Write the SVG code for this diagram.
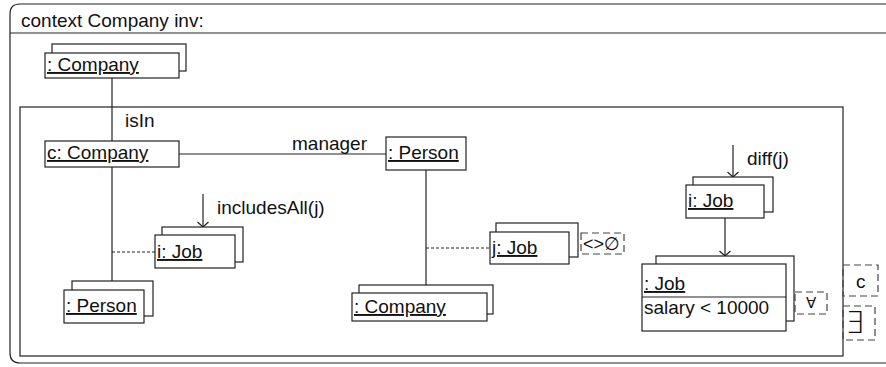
<svg xmlns="http://www.w3.org/2000/svg" width="886" height="367" viewBox="0 0 886 367">
<defs>
<style>
text{font-family:"Liberation Sans","DejaVu Sans",Arial,sans-serif;font-size:19px;fill:#111}
.u{text-decoration:underline}
.box{fill:#fff;stroke:#222;stroke-width:1.2}
.ln{fill:none;stroke:#222;stroke-width:1.2}
.dl{fill:none;stroke:#222;stroke-width:1;stroke-dasharray:3 2}
.db{fill:none;stroke:#444;stroke-width:1.2;stroke-dasharray:7 4}
.sym{font-family:"DejaVu Sans",sans-serif}
</style>
<marker id="arr" viewBox="-7 -7 9 14" refX="0" refY="0" markerWidth="9" markerHeight="14" markerUnits="userSpaceOnUse" orient="auto">
<path d="M-5,-5.5 L0,0 L-5,5.5" fill="none" stroke="#222" stroke-width="1.2"/>
</marker>
</defs>

<g id="frame">
<path class="ln" d="M896,4 H20 Q10,4 10,14 V353 Q10,363 20,363 H896"/>
<line class="ln" x1="10" y1="33" x2="896" y2="33"/>
<text x="21" y="27">context Company inv:</text>
</g>

<g id="inner">
<rect class="ln" x="20" y="107" width="823" height="249"/>
</g>

<g id="connectors">
<line class="ln" x1="112" y1="78" x2="112" y2="141"/>
<line class="ln" x1="179" y1="154" x2="386" y2="154"/>
<line class="ln" x1="112" y1="167" x2="112" y2="281"/>
<line class="dl" x1="112" y1="252" x2="155" y2="252"/>
<line class="ln" x1="203" y1="194" x2="203" y2="227" marker-end="url(#arr)"/>
<line class="ln" x1="426" y1="170" x2="426" y2="285"/>
<line class="dl" x1="426" y1="248" x2="490" y2="248"/>
<line class="ln" x1="733" y1="145" x2="733" y2="177" marker-end="url(#arr)"/>
<line class="ln" x1="725" y1="218" x2="725" y2="256" marker-end="url(#arr)"/>
<text x="125" y="127">isIn</text>
<text x="292" y="150">manager</text>
<text x="217" y="214">includesAll(j)</text>
<text x="747" y="165">diff(j)</text>
</g>

<g id="companyTop">
<rect class="box" x="52" y="44" width="134" height="27"/>
<rect class="box" x="45" y="53" width="134" height="25"/>
<text class="u" x="47" y="71">: Company</text>
</g>

<g id="cCompany">
<rect class="box" x="45" y="141" width="134" height="26"/>
<text class="u" x="47" y="159">c: Company</text>
</g>

<g id="personTop">
<rect class="box" x="386" y="137" width="80" height="33"/>
<text class="u" x="388" y="159">: Person</text>
</g>

<g id="iJobLeft">
<rect class="box" x="162" y="227" width="81" height="35"/>
<rect class="box" x="155" y="235" width="80" height="33"/>
<text class="u" x="157" y="258">i: Job</text>
</g>

<g id="personBottom">
<rect class="box" x="72" y="281" width="81" height="35"/>
<rect class="box" x="64" y="290" width="80" height="33"/>
<text class="u" x="66" y="312">: Person</text>
</g>

<g id="jJob">
<rect class="box" x="496" y="223" width="82" height="34"/>
<rect class="box" x="490" y="232" width="79" height="32"/>
<text class="u" x="492" y="254">j: Job</text>
</g>

<g id="companyBottom">
<rect class="box" x="359" y="285" width="134" height="29"/>
<rect class="box" x="352" y="293" width="135" height="28"/>
<text class="u" x="354" y="313">: Company</text>
</g>

<g id="iJobRight">
<rect class="box" x="693" y="177" width="80" height="35"/>
<rect class="box" x="686" y="185" width="78" height="33"/>
<text class="u" x="688" y="207">i: Job</text>
</g>

<g id="jobSalary">
<rect class="box" x="656" y="256" width="138" height="65"/>
<rect class="box" x="642" y="264" width="144" height="67"/>
<line class="ln" x1="642" y1="297" x2="786" y2="297"/>
<text class="u" x="644" y="290">: Job</text>
<text x="644" y="314">salary &lt; 10000</text>
</g>

<g id="notEmpty">
<rect class="db" x="581" y="233" width="43" height="21"/>
<text x="583" y="250" style="font-size:18px">&lt;&gt;∅</text>
</g>

<g id="forAll">
<rect class="db" x="795" y="292" width="32" height="22"/>
<text class="sym" x="806" y="308" style="font-size:15px">∀</text>
</g>

<g id="cBox">
<rect class="db" x="843" y="265" width="35" height="31"/>
<text x="856" y="288">c</text>
</g>

<g id="exists">
<rect class="db" x="843" y="306" width="32" height="34"/>
<text class="sym" x="845" y="333" style="font-size:30px;font-weight:200">∃</text>
</g>
</svg>
